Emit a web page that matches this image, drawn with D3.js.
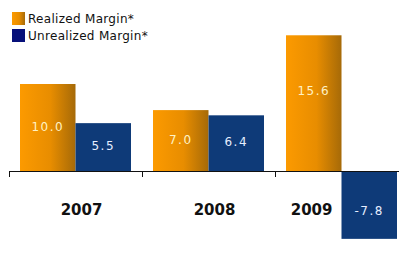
<!DOCTYPE html>
<html>
<head>
<meta charset="utf-8">
<script src="https://cdn.jsdelivr.net/npm/d3@7"></script>
<style>
  body { margin: 0; background: #fff; }
  svg { display: block; }
</style>
</head>
<body>
<div id="chart-area"></div>
<script>
// chart values
let years = ["2007", "2008", "2009"];
let series = ["Realized Margin*", "Unrealized Margin*"];
let realized = [10.0, 7.0, 15.6];
let unrealized = [5.5, 6.4, -7.8];

let width = 399, height = 257;
let baseY = 171;

let svg = d3.select("#chart-area").append("svg").attr("width", width).attr("height", height);

let defs = svg.append("defs");
let grad = defs.append("linearGradient").attr("id", "orangeGrad").attr("x1", "0%").attr("x2", "100%");
grad.append("stop").attr("offset", "0%").attr("stop-color", "#fc9a00");
grad.append("stop").attr("offset", "55%").attr("stop-color", "#e88d00");
grad.append("stop").attr("offset", "100%").attr("stop-color", "#a66a08");

let x = d3.scaleBand().domain(years).range([9, 408]);
let x1 = d3.scaleBand().domain(series).range([11, 122]);
let y = d3.scaleLinear().domain([0, 10]).range([baseY, baseY - 87]);

let rows = years.map((yr, i) => ({ year: yr, vals: [realized[i], unrealized[i]] }));

let groups = svg.selectAll("g.cat").data(rows).enter()
  .append("g").attr("class", "cat")
  .attr("transform", d => "translate(" + x(d.year) + ",0)");

let bars = groups.selectAll("g.bar").data(d => d.vals.map((v, j) => ({ v: v, s: series[j], j: j })))
  .enter().append("g").attr("class", "bar");

bars.append("rect")
  .attr("x", d => x1(d.s))
  .attr("width", x1.bandwidth())
  .attr("y", d => Math.min(y(d.v), y(0)))
  .attr("height", d => Math.abs(y(d.v) - y(0)))
  .attr("fill", d => d.j === 0 ? "url(#orangeGrad)" : "#0e3a78");

bars.append("text")
  .attr("x", d => x1(d.s) + x1.bandwidth() / 2)
  .attr("y", d => {
    let h = Math.abs(y(d.v) - y(0));
    if (d.v < 0) return y(0) + h / 2 + 10;
    return y(d.v) + Math.min(h / 2 - 2, 55) + 5;
  })
  .attr("text-anchor", "middle")
  .attr("font-family", "DejaVu Sans, sans-serif")
  .attr("font-size", 12)
  .attr("letter-spacing", 1.5)
  .attr("fill", d => d.j === 0 ? "#fff2c4" : "#e6eeff")
  .text(d => d.v.toFixed(1));

// axis line with ticks at category boundaries
svg.append("line")
  .attr("x1", x.range()[0]).attr("x2", width)
  .attr("y1", baseY + 0.5).attr("y2", baseY + 0.5)
  .attr("stroke", "#111").attr("stroke-width", 1.2);

svg.selectAll("line.tick").data(years).enter()
  .append("line").attr("class", "tick")
  .attr("x1", d => x(d) + 0.5).attr("x2", d => x(d) + 0.5)
  .attr("y1", baseY).attr("y2", baseY + 6)
  .attr("stroke", "#111");

// year labels, pushed left of a negative bar
svg.selectAll("text.year").data(rows).enter()
  .append("text").attr("class", "year")
  .attr("x", d => d.vals[1] < 0 ? x(d.year) + x1(series[1]) - 9 : x(d.year) + x.bandwidth() / 2 + 6)
  .attr("y", 215)
  .attr("text-anchor", d => d.vals[1] < 0 ? "end" : "middle")
  .attr("font-family", "DejaVu Sans, sans-serif")
  .attr("font-weight", "bold")
  .attr("font-size", 15)
  .attr("fill", "#111")
  .text(d => d.year);

// legend
let legend = svg.selectAll("g.legend").data(series).enter()
  .append("g").attr("class", "legend")
  .attr("transform", (d, i) => "translate(12," + (12 + i * 17) + ")");

legend.append("rect")
  .attr("width", 13).attr("height", 13)
  .attr("fill", (d, i) => i === 0 ? "url(#orangeGrad)" : "#07107a");

legend.append("text")
  .attr("x", 16).attr("y", 11)
  .attr("font-family", "DejaVu Sans, sans-serif")
  .attr("font-size", 12)
  .attr("letter-spacing", 0.3)
  .attr("fill", "#111")
  .text(d => d);
</script>
</body>
</html>
